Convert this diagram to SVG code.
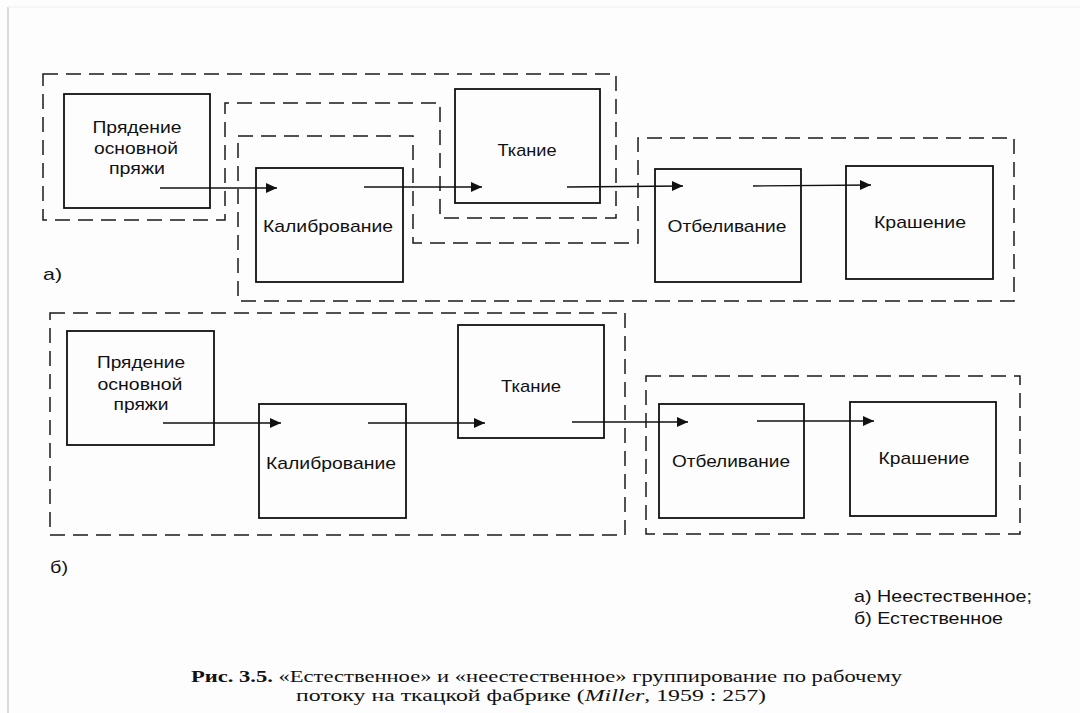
<svg xmlns="http://www.w3.org/2000/svg" width="1080" height="713" viewBox="0 0 1080 713">
<style>
.bg{fill:#fdfdfd}
.edge{stroke:#c4c4c4;stroke-width:1.2;fill:none}
.grp{fill:none;stroke:#1a1a1a;stroke-width:1.5;stroke-dasharray:15 8}
.box{fill:none;stroke:#111;stroke-width:1.8}
.lbl{font-family:"Liberation Sans",Arial,sans-serif;font-size:17px;fill:#111;text-anchor:middle}
.side{font-family:"Liberation Sans",Arial,sans-serif;font-size:17px;fill:#111}
.cap{font-family:"Liberation Serif","Times New Roman",serif;font-size:17px;fill:#111}
.conn line{stroke:#111;stroke-width:1.3;marker-end:url(#ah)}
</style>
<defs>
<marker id="ah" markerUnits="userSpaceOnUse" markerWidth="12" markerHeight="11" refX="11" refY="5" orient="auto">
<path d="M0,0 L11,5 L0,10 Z" fill="#111"/>
</marker>
</defs>
<rect class="bg" x="0" y="0" width="1080" height="713"/>
<line class="edge" x1="8" y1="7" x2="8" y2="713"/>
<line x1="8" y1="7" x2="1080" y2="7" stroke="#efefef" stroke-width="1"/>

<!-- groups (a) -->
<g id="groups-a">
<path id="grp-a1" class="grp" d="M43,74 H616 V218 H440 V103 H225 V220 H43 Z"/>
<path id="grp-a2" class="grp" d="M238,136 H413 V243 H638 V138 H1014 V301 H238 Z"/>
</g>
<!-- groups (b) -->
<g id="groups-b">
<rect id="grp-b1" class="grp" x="50" y="313" width="575" height="222"/>
<rect id="grp-b2" class="grp" x="646" y="376" width="374" height="158"/>
</g>

<!-- nodes (a) -->
<g id="a-pryadenie">
<rect class="box" x="64" y="94" width="146" height="114"/>
<text class="lbl" x="137" y="133" textLength="89" lengthAdjust="spacingAndGlyphs">Прядение</text>
<text class="lbl" x="136" y="154" textLength="84" lengthAdjust="spacingAndGlyphs">основной</text>
<text class="lbl" x="137" y="174" textLength="56" lengthAdjust="spacingAndGlyphs">пряжи</text>
</g>
<g id="a-kalibrovanie">
<rect class="box" x="256" y="168" width="147" height="114"/>
<text class="lbl" x="328" y="232" textLength="130" lengthAdjust="spacingAndGlyphs">Калибрование</text>
</g>
<g id="a-tkanie">
<rect class="box" x="455" y="89" width="145" height="114"/>
<text class="lbl" x="527" y="156" textLength="59" lengthAdjust="spacingAndGlyphs">Ткание</text>
</g>
<g id="a-otbelivanie">
<rect class="box" x="655" y="169" width="146" height="113"/>
<text class="lbl" x="727" y="232" textLength="119" lengthAdjust="spacingAndGlyphs">Отбеливание</text>
</g>
<g id="a-krashenie">
<rect class="box" x="846" y="166" width="147" height="113"/>
<text class="lbl" x="920" y="228" textLength="92" lengthAdjust="spacingAndGlyphs">Крашение</text>
</g>

<!-- nodes (b) -->
<g id="b-pryadenie">
<rect class="box" x="67" y="331" width="147" height="114"/>
<text class="lbl" x="141" y="368" textLength="88" lengthAdjust="spacingAndGlyphs">Прядение</text>
<text class="lbl" x="140" y="390" textLength="85" lengthAdjust="spacingAndGlyphs">основной</text>
<text class="lbl" x="141" y="410" textLength="55" lengthAdjust="spacingAndGlyphs">пряжи</text>
</g>
<g id="b-kalibrovanie">
<rect class="box" x="259" y="404" width="147" height="114"/>
<text class="lbl" x="331" y="469" textLength="130" lengthAdjust="spacingAndGlyphs">Калибрование</text>
</g>
<g id="b-tkanie">
<rect class="box" x="458" y="325" width="146" height="113"/>
<text class="lbl" x="531" y="392" textLength="60" lengthAdjust="spacingAndGlyphs">Ткание</text>
</g>
<g id="b-otbelivanie">
<rect class="box" x="659" y="404" width="145" height="114"/>
<text class="lbl" x="731" y="467" textLength="118" lengthAdjust="spacingAndGlyphs">Отбеливание</text>
</g>
<g id="b-krashenie">
<rect class="box" x="850" y="402" width="146" height="114"/>
<text class="lbl" x="924" y="464" textLength="91" lengthAdjust="spacingAndGlyphs">Крашение</text>
</g>

<!-- connectors -->
<g id="connectors" class="conn">
<line x1="160" y1="188" x2="277" y2="188"/>
<line x1="364" y1="187" x2="482" y2="187"/>
<line x1="567" y1="187" x2="683" y2="186"/>
<line x1="753" y1="186" x2="871" y2="185"/>
<line x1="163" y1="423" x2="281" y2="423"/>
<line x1="368" y1="423" x2="485" y2="423"/>
<line x1="572" y1="422" x2="688" y2="422"/>
<line x1="757" y1="421" x2="874" y2="421"/>
</g>

<!-- labels -->
<g id="labels">
<text class="side" x="43" y="280" textLength="19" lengthAdjust="spacingAndGlyphs">а)</text>
<text class="side" x="50" y="573" textLength="18" lengthAdjust="spacingAndGlyphs">б)</text>
<text class="side" x="854" y="602" textLength="178" lengthAdjust="spacingAndGlyphs">а) Неестественное;</text>
<text class="side" x="854" y="624" textLength="149" lengthAdjust="spacingAndGlyphs">б) Естественное</text>
</g>

<!-- caption -->
<g id="caption">
<text class="cap" x="191" y="682" textLength="711" lengthAdjust="spacingAndGlyphs"><tspan font-weight="bold">Рис. 3.5.</tspan> «Естественное» и «неестественное» группирование по рабочему</text>
<text class="cap" x="296" y="701" textLength="470" lengthAdjust="spacingAndGlyphs">потоку на ткацкой фабрике (<tspan font-style="italic">Miller</tspan>, 1959 : 257)</text>
</g>
</svg>
